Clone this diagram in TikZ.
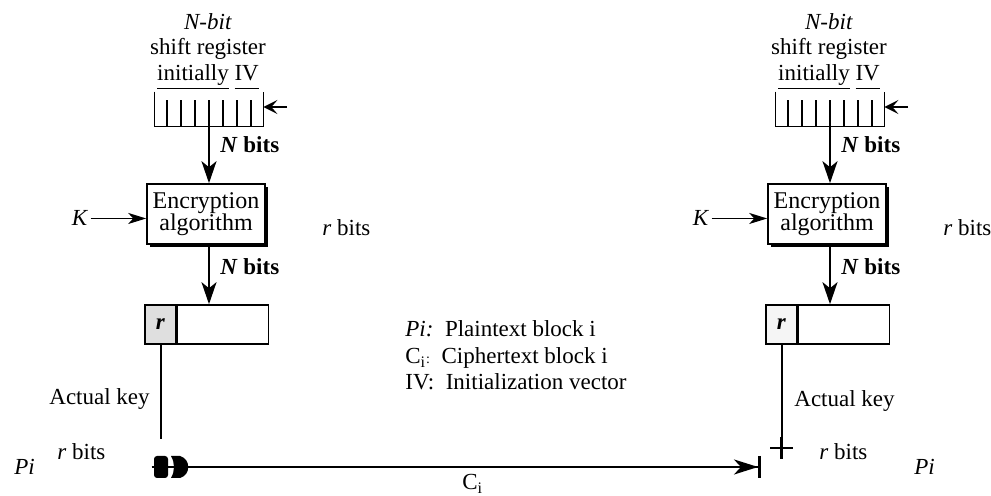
\documentclass[tikz,border=0pt]{standalone}
\usepackage{fontspec}
\setmainfont{Liberation Serif}
\usetikzlibrary{positioning,arrows.meta,shadows}

\begin{document}
\begin{tikzpicture}[x=0.5pt, y=-0.5pt, every node/.style={font=\fontsize{11.5}{13}\selectfont, inner sep=1pt}]
  \tikzset{
    encbox/.style={draw, line width=0.8pt, fill=white, minimum width=59pt, minimum height=30pt, align=center, inner sep=0pt,
      font=\fontsize{12}{11}\selectfont, drop shadow={shadow xshift=1.3pt, shadow yshift=-1.3pt, fill=black, opacity=1}},
    cell/.style={draw, line width=0.8pt, minimum height=19.5pt, inner sep=0pt},
    arr/.style={-{Stealth[length=11pt, width=7.5pt, inset=3pt]}, line width=1pt},
    karr/.style={-{Stealth[length=9pt, width=5.5pt, inset=2.5pt]}, line width=0.7pt},
    feedarr/.style={-{Stealth[length=7pt, width=7pt, inset=3pt]}, line width=1pt},
    lbl/.style={anchor=base west}
  }
  \useasboundingbox (0,0) rectangle (991,496);

  % register, cipher and output block, once per side
  \foreach \s/\n/\cellfill in {0/l/gray!25, 621/r/gray!8} {
    \begin{scope}[shift={(\s,0)}]
      \node[anchor=base] (nbit-\n) at (208,30) {\textit{N-bit}};
      \node[anchor=base] (shreg-\n) at (208,55) {shift register};
      \node[anchor=base] (init-\n) at (208,81) {\underline{initially} \underline{IV\vphantom{y}}};
      \node[minimum width=54pt, minimum height=17pt, inner sep=0pt] (sreg-\n) at (209,109) {};
      \draw[line width=0.8pt] (sreg-\n.north west) -- (sreg-\n.south west) -- (sreg-\n.south east) -- (sreg-\n.north east);
      \foreach \k in {-3,...,3}
        \draw[line width=1pt] ([xshift=\k*7pt]sreg-\n.south) -- ++(0pt,13pt);
      \coordinate (feed-\n) at (287,107);
      \draw[feedarr] (feed-\n) -- (feed-\n -| sreg-\n.east);

      \node[encbox] (enc-\n) at (206,214) {Encryption\\algorithm};
      \draw[arr] (sreg-\n.south) -- (sreg-\n.south |- enc-\n.north);
      \node[lbl] (nb1-\n) at (218,153) {\textbf{\textit{N} bits}};
      \node[anchor=base] (k-\n) at (80,226) {\textit{K}};
      \draw[karr] (k-\n.east) -- (k-\n.east -| enc-\n.west);
      \node[lbl] (rb1-\n) at (320,236) {\textit{r} bits};

      \node[cell, fill=\cellfill, minimum width=15.5pt] (rc-\n) at (160.5,324.5) {\textbf{\textit{r}}};
      \node[cell, minimum width=45.5pt, right=0pt of rc-\n] (rest-\n) {};
      \draw[arr] (sreg-\n.south |- enc-\n.south) -- (sreg-\n.south |- rest-\n.north);
      \node[lbl] (nb2-\n) at (218,275) {\textbf{\textit{N} bits}};
    \end{scope}
  }

  % left end
  \coordinate (kend-l) at (161,439);
  \draw[line width=1pt] (rc-l.south) -- (rc-l.south |- kend-l);
  \node[minimum width=18pt, minimum height=11pt, inner sep=0pt] (xor-l) at (170,467) {};
  \fill[rounded corners=1.5pt] (154,456) rectangle (168,478);
  \fill (171,456) -- (180,456) .. controls (191,459) and (191,475) .. (180,478) -- (171,478)
    .. controls (175,471) and (175,463) .. (171,456) -- cycle;
  \node[lbl] (key-l) at (47,405) {Actual key};
  \node[lbl] (rb2-l) at (55,460) {\textit{r} bits};
  \node[lbl] (pi-l) at (12,475) {\textit{Pi}};

  % ciphertext line
  \coordinate (cend) at (761,467);
  \draw[line width=1.3pt, -{Stealth[length=12pt, width=7.5pt, inset=3.5pt]Bar[width=11pt, line width=1.5pt]}] (xor-l.west) -- (cend);
  \node[lbl] (ci) at (460,490) {C\textsubscript{i}};

  % right end
  \node[minimum size=11pt, inner sep=0pt] (xor-r) at (781.5,448) {};
  \draw[line width=1pt] (rc-r.south) -- (rc-r.south |- xor-r.north);
  \draw[line width=1.4pt] (xor-r.west) -- (xor-r.east) (xor-r.north) -- (xor-r.south);
  \node[lbl] (key-r) at (792,407) {Actual key};
  \node[lbl] (rb2-r) at (817,460) {\textit{r} bits};
  \node[lbl] (pi-r) at (912,475) {\textit{Pi}};

  % legend
  \node[lbl] (leg1) at (403,337) {\textit{Pi:}\enspace Plaintext block i};
  \node[lbl] (leg2) at (403,363.5) {C\textsubscript{i}{\scriptsize:}\enspace Ciphertext block i};
  \node[lbl] (leg3) at (403,390) {IV:\enspace Initialization vector};
\end{tikzpicture}
\end{document}
